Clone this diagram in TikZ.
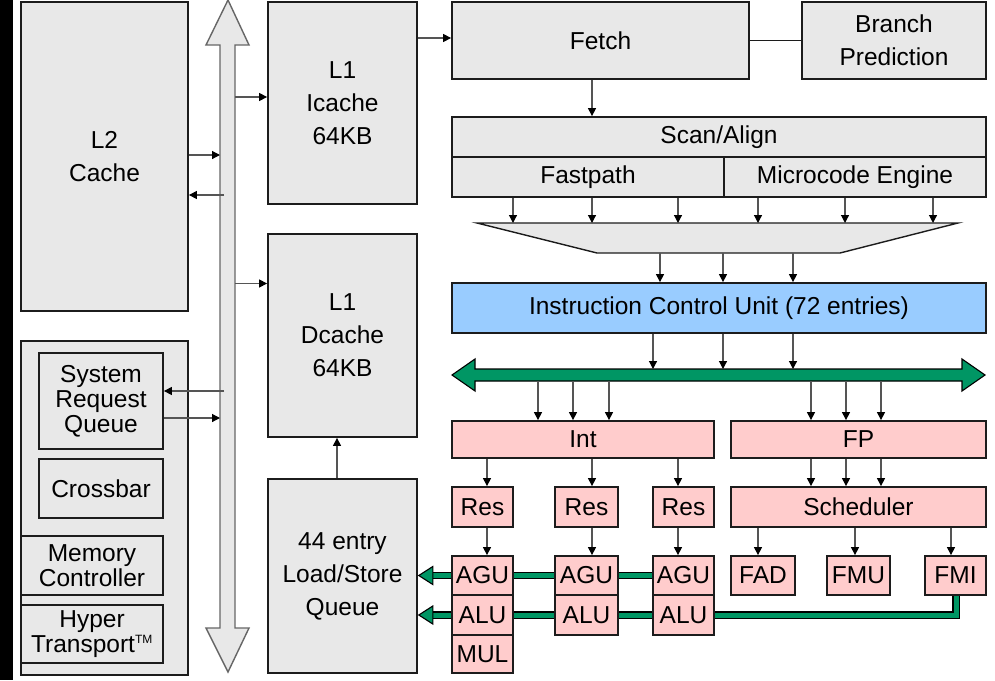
\documentclass[tikz,border=0pt]{standalone}
\usepackage{fontspec}
\setmainfont{Liberation Sans}
\usetikzlibrary{arrows.meta,backgrounds}
\definecolor{boxgray}{RGB}{232,232,232}
\definecolor{icublue}{RGB}{153,204,255}
\definecolor{pinkbox}{RGB}{255,204,204}
\definecolor{busgreen}{RGB}{0,150,100}
\definecolor{edgec}{RGB}{28,28,28}
\definecolor{shaftc}{RGB}{85,85,85}
\newcommand\diafont{\fontsize{24.5}{33}\selectfont}
\newcommand\tightfont{\fontsize{24.5}{25}\selectfont}
\tikzset{
  blk/.style={draw=edgec, line width=1.8pt, fill=boxgray, inner sep=0pt,
    align=center, font=\diafont, text=black},
  pnk/.style={blk, fill=pinkbox},
  wh/.style 2 args={minimum width=#1pt, minimum height=#2pt},
  arr/.style={draw=shaftc, line width=1.2pt,
    -{Triangle[length=8pt,width=8pt,color=black]}},
  plain/.style={draw=edgec, line width=1.8pt},
  gline/.style={draw=black, line width=1.3pt, double=busgreen,
    double distance=5pt, line join=miter},
  ghead/.style={draw=black, fill=busgreen, line width=1.1pt, line join=miter},
  wbus/.style={draw=black!60, fill=boxgray, line width=1.4pt, line join=miter},
}
\begin{document}
\begin{tikzpicture}[x=1pt,y=-1pt]
\useasboundingbox (0,0) rectangle (995,680);
\fill[black] (0,0) rectangle (13,680);

% ---------- left column ----------
\node[blk, wh={167}{309}] (L2) at (104.5,156.5) {L2\\Cache};
\node[blk, wh={167}{334}] (sys) at (104.5,508) {};
\node[blk, wh={124}{96}, font=\tightfont] (SRQ) at (101,401) {System\\Request\\Queue};
\node[blk, wh={124}{59}] (xbar) at (101,488.5) {Crossbar};
\node[blk, wh={142}{59}, font=\tightfont] (mem) at (92,565.5) {Memory\\Controller};
\node[blk, wh={142}{58}, font=\tightfont] (ht) at (92,634) {Hyper\\Transport\textsuperscript{\fontsize{12}{12}\selectfont TM}};

% ---------- vertical system bus ----------
\draw[wbus] (228,0) -- (249,45) -- (235,45) -- (235,628) -- (249,628)
  -- (228,672) -- (206,628) -- (220,628) -- (220,45) -- (206,45) -- cycle;
\coordinate (busL) at (220,0);
\coordinate (busR) at (235,0);
\coordinate (busM) at (224,0);

% ---------- L1 caches and LSQ ----------
\node[blk, wh={149}{202}] (Ic) at (342.5,103) {L1\\Icache\\64KB};
\node[blk, wh={149}{203}] (Dc) at (342.5,335.5) {L1\\Dcache\\64KB};
\node[blk, wh={149}{194}] (LSQ) at (342.5,576) {44 entry\\Load/Store\\Queue};

% ---------- front end ----------
\node[blk, wh={297}{77}] (Fetch) at (600.5,40.5) {Fetch};
\node[blk, wh={184}{77}] (BP) at (894,40.5) {Branch\\Prediction};
\node[blk, wh={534}{40}] (Scan) at (719,137) {Scan/Align};
\node[blk, wh={272}{40}] (Fast) at (588,177) {Fastpath};
\node[blk, wh={262}{40}] (Micro) at (855,177) {Microcode Engine};
\draw[draw=edgec, fill=boxgray, line width=1.4pt, line join=miter]
  (477,223) -- (958,223) -- (840,253) -- (597,253) -- cycle;
\coordinate (trapT) at (0,223);
\coordinate (trapB) at (0,253);
\node[blk, fill=icublue, wh={534}{50}] (ICU) at (719,308) {Instruction Control Unit (72 entries)};

% ---------- green result bus ----------
\draw[ghead] (452,375) -- (475,359) -- (475,369) -- (962,369) -- (962,359)
  -- (985,375) -- (962,391) -- (962,381) -- (475,381) -- (475,391) -- cycle;
\coordinate (gbT) at (0,369);
\coordinate (gbB) at (0,381);

% ---------- execution ----------
\node[pnk, wh={262}{37}] (Int) at (583,439.5) {Int};
\node[pnk, wh={255}{37}] (FP) at (858.5,439.5) {FP};
\node[pnk, wh={61}{40}] (Res1) at (482.5,507) {Res};
\node[pnk, wh={63}{40}] (Res2) at (586.5,507) {Res};
\node[pnk, wh={61}{40}] (Res3) at (683.5,507) {Res};
\node[pnk, wh={255}{40}] (Sched) at (858.5,507) {Scheduler};
\node[pnk, wh={61}{39}] (AGU1) at (482.5,575.5) {AGU};
\node[pnk, wh={61}{40}] (ALU1) at (482.5,615) {ALU};
\node[pnk, wh={61}{38}] (MUL) at (482.5,654) {MUL};
\node[pnk, wh={63}{39}] (AGU2) at (586.5,575.5) {AGU};
\node[pnk, wh={63}{40}] (ALU2) at (586.5,615) {ALU};
\node[pnk, wh={61}{39}] (AGU3) at (683.5,575.5) {AGU};
\node[pnk, wh={61}{40}] (ALU3) at (683.5,615) {ALU};
\node[pnk, wh={64}{39}] (FAD) at (763,575.5) {FAD};
\node[pnk, wh={63}{39}] (FMU) at (858.5,575.5) {FMU};
\node[pnk, wh={61}{39}] (FMI) at (955.5,575.5) {FMI};

% ---------- x positions of the small arrows ----------
\coordinate (xf) at (592,0);
\coordinate (xt1) at (513,0); \coordinate (xt2) at (592,0); \coordinate (xt3) at (678,0);
\coordinate (xt4) at (758,0); \coordinate (xt5) at (845,0); \coordinate (xt6) at (933,0);
\coordinate (xi1) at (660,0); \coordinate (xi2) at (723,0); \coordinate (xi3) at (793,0);
\coordinate (xb1) at (653,0); \coordinate (xb2) at (723,0); \coordinate (xb3) at (793,0);
\coordinate (xn1) at (538,0); \coordinate (xn2) at (573,0); \coordinate (xn3) at (609,0);
\coordinate (xp1) at (811,0); \coordinate (xp2) at (846,0); \coordinate (xp3) at (881,0);
\coordinate (xr1) at (487,0); \coordinate (xr2) at (592,0); \coordinate (xr3) at (678,0);
\coordinate (xs1) at (758,0); \coordinate (xs2) at (855,0); \coordinate (xs3) at (951,0);

% ---------- connectors: left part ----------
\coordinate (pI) at ([yshift=6pt]Ic.west);
\coordinate (pD) at ([yshift=52pt]Dc.west);
\draw[arr] (busR |- pI) -- (pI);
\draw[arr] (busR |- pD) -- (pD);
\coordinate (pL2a) at ([yshift=1.5pt]L2.east);
\coordinate (pL2b) at ([yshift=-38.5pt]L2.east);
\draw[arr] (pL2a) -- (busL |- pL2a);
\draw[arr] (busM |- pL2b) -- (pL2b);
\coordinate (pSa) at ([yshift=10pt]SRQ.east);
\coordinate (pSb) at ([yshift=-17pt]SRQ.east);
\draw[arr] (busM |- pSa) -- (pSa);
\draw[arr] (pSb) -- (busL |- pSb);
\draw[arr] ([xshift=-5.5pt]LSQ.north) -- ([xshift=-5.5pt]Dc.south);
\coordinate (pF) at ([yshift=2.5pt]Fetch.west);
\draw[arr] (Ic.east |- pF) -- (pF);
\draw[plain] (Fetch.east) -- (BP.west);

% ---------- connectors: front end ----------
\draw[arr] (Fetch.south -| xf) -- (Scan.north -| xf);
\foreach \x in {xt1,xt2,xt3} \draw[arr] (Fast.south -| \x) -- (trapT -| \x);
\foreach \x in {xt4,xt5,xt6} \draw[arr] (Micro.south -| \x) -- (trapT -| \x);
\foreach \x in {xi1,xi2,xi3} \draw[arr] (trapB -| \x) -- (ICU.north -| \x);
\foreach \x in {xb1,xb2,xb3} \draw[arr] (ICU.south -| \x) -- (gbT -| \x);
\foreach \x in {xn1,xn2,xn3} \draw[arr] (gbB -| \x) -- (Int.north -| \x);
\foreach \x in {xp1,xp2,xp3} \draw[arr] (gbB -| \x) -- (FP.north -| \x);
\foreach \x in {xp1,xp2,xp3} \draw[arr] (FP.south -| \x) -- (Sched.north -| \x);
\draw[arr] (Int.south -| xr1) -- (Res1.north -| xr1);
\draw[arr] (Int.south -| xr2) -- (Res2.north -| xr2);
\draw[arr] (Int.south -| xr3) -- (Res3.north -| xr3);
\draw[arr] (Res1.south -| xr1) -- (AGU1.north -| xr1);
\draw[arr] (Res2.south -| xr2) -- (AGU2.north -| xr2);
\draw[arr] (Res3.south -| xr3) -- (AGU3.north -| xr3);
\draw[arr] (Sched.south -| xs1) -- (FAD.north -| xs1);
\draw[arr] (Sched.south -| xs2) -- (FMU.north -| xs2);
\draw[arr] (Sched.south -| xs3) -- (FMI.north -| xs3);

% ---------- green result lines to the LSQ ----------
\coordinate (hA) at ([xshift=0.9pt]LSQ.east |- AGU1.center);
\coordinate (hB) at ([xshift=0.9pt]LSQ.east |- ALU1.center);
\begin{scope}[on background layer]
  \draw[gline] (AGU3.west) -- ([xshift=13pt]hA);
  \draw[gline] ([xshift=0.5pt]FMI.south) |- ([xshift=13pt]hB);
\end{scope}
\draw[ghead] (hA) -- ++(14,-9) -- ++(0,18) -- cycle;
\draw[ghead] (hB) -- ++(14,-9) -- ++(0,18) -- cycle;
\end{tikzpicture}
\end{document}
